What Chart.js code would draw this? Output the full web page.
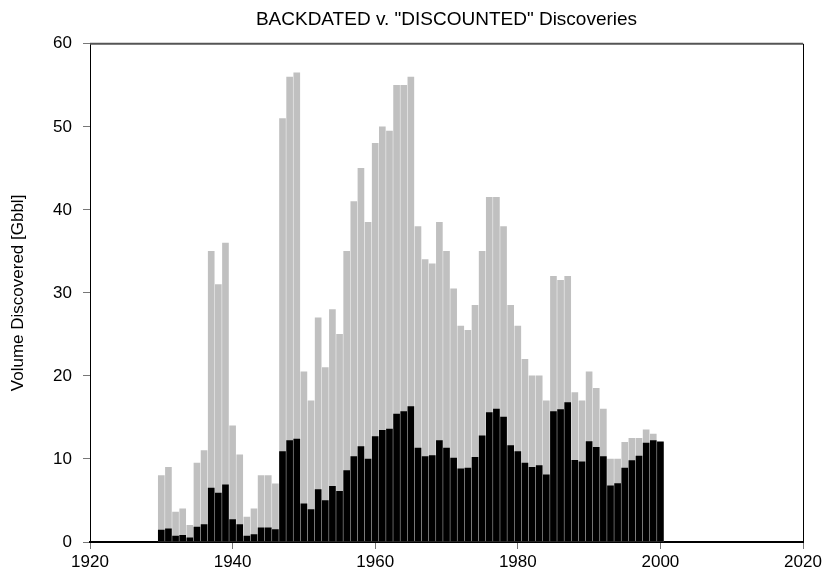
<!DOCTYPE html>
<html>
<head>
<meta charset="utf-8">
<script src="https://cdn.jsdelivr.net/npm/chart.js@4.4.1/dist/chart.umd.min.js"></script>
<style>
  html, body { margin: 0; padding: 0; background: #fff; }
  #wrap { width: 827px; height: 582px; }
</style>
</head>
<body>
<div id="wrap"><canvas id="chart" width="827" height="582"></canvas></div>
<script>
// discovery years 1930..2000
const years = [
  1930, 1931, 1932, 1933, 1934, 1935, 1936, 1937, 1938, 1939,
  1940, 1941, 1942, 1943, 1944, 1945, 1946, 1947, 1948, 1949,
  1950, 1951, 1952, 1953, 1954, 1955, 1956, 1957, 1958, 1959,
  1960, 1961, 1962, 1963, 1964, 1965, 1966, 1967, 1968, 1969,
  1970, 1971, 1972, 1973, 1974, 1975, 1976, 1977, 1978, 1979,
  1980, 1981, 1982, 1983, 1984, 1985, 1986, 1987, 1988, 1989,
  1990, 1991, 1992, 1993, 1994, 1995, 1996, 1997, 1998, 1999,
  2000
]

// backdated volumes (grey), Gbbl
const backdated = [
  8, 9, 3.6, 4, 2, 9.5, 11, 35, 31, 36,
  14, 10.5, 3, 4, 8, 8, 7, 51, 56, 56.5,
  20.5, 17, 27, 21, 28, 25, 35, 41, 45, 38.5,
  48, 50, 49.5, 55, 55, 56, 38, 34, 33.5, 38.5,
  35, 30.5, 26, 25.5, 28.5, 35, 41.5, 41.5, 38, 28.5,
  26, 22, 20, 20, 17, 32, 31.5, 32, 18, 17,
  20.5, 18.5, 16, 10, 10, 12, 12.5, 12.5, 13.5, 13,
  12
]

// "discounted" volumes (black), Gbbl
const discounted = [
  1.45, 1.6, 0.7, 0.8, 0.5, 1.8, 2.1, 6.5, 5.9, 6.9,
  2.7, 2.1, 0.7, 0.9, 1.7, 1.7, 1.5, 10.9, 12.2, 12.4,
  4.6, 3.9, 6.3, 5, 6.7, 6.1, 8.6, 10.3, 11.5, 10,
  12.7, 13.45, 13.6, 15.4, 15.7, 16.3, 11.3, 10.3, 10.4, 12.2,
  11.3, 10.1, 8.8, 8.9, 10.2, 12.8, 15.6, 16, 15.05, 11.6,
  10.9, 9.5, 9, 9.2, 8.1, 15.7, 15.95, 16.8, 9.85, 9.65,
  12.1, 11.4, 10.3, 6.75, 7.05, 8.9, 9.8, 10.35, 11.9, 12.2,
  12.05
]

const FONT = "'Liberation Sans', Arial, sans-serif"

// top and right edges of the plot box
const frame = {
  id: "frame",
  afterDraw(chart) {
    const { ctx, chartArea: a } = chart
    ctx.save()
    ctx.strokeStyle = "#555"
    ctx.lineWidth = 2
    ctx.beginPath()
    ctx.moveTo(a.left, a.top)
    ctx.lineTo(a.right, a.top)
    ctx.stroke()
    ctx.strokeStyle = "#000"
    ctx.lineWidth = 1
    ctx.beginPath()
    ctx.moveTo(a.right + 0.5, a.top)
    ctx.lineTo(a.right + 0.5, a.bottom)
    ctx.stroke()
    ctx.restore()
  }
}

new Chart(document.getElementById("chart"), {
  type: "bar",
  data: {
    datasets: [
      {
        label: "Discounted",
        data: years.map((y, i) => ({ x: y, y: discounted[i] })),
        backgroundColor: "#000",
        borderWidth: 0,
        grouped: false,
        barThickness: 6,
        order: 1
      },
      {
        label: "Backdated",
        data: years.map((y, i) => ({ x: y, y: backdated[i] })),
        backgroundColor: "#c0c0c0",
        borderWidth: 0,
        grouped: false,
        barThickness: 6,
        order: 2
      }
    ]
  },
  options: {
    responsive: false,
    animation: false,
    layout: { padding: { left: 0, right: 24, top: 0, bottom: 0 } },
    plugins: {
      legend: { display: false },
      tooltip: { enabled: false },
      title: {
        display: true,
        fullSize: false,
        text: 'BACKDATED v. "DISCOUNTED" Discoveries',
        color: "#000",
        font: { family: FONT, size: 19, weight: "normal" },
        padding: { top: 8, bottom: 13 }
      }
    },
    scales: {
      x: {
        type: "linear",
        offset: false,
        min: 1920,
        max: 2020,
        afterFit(scale) { scale.height = 40 },
        ticks: {
          stepSize: 20,
          color: "#000",
          padding: 3,
          maxRotation: 0,
          font: { family: FONT, size: 17 },
          callback: v => String(v)
        },
        grid: { offset: false, drawOnChartArea: false, drawTicks: true, tickLength: 7, color: "#777" },
        border: { display: true, color: "#000", width: 2 }
      },
      y: {
        min: 0,
        max: 60,
        afterFit(scale) { scale.width = 90 },
        ticks: {
          stepSize: 10,
          color: "#000",
          padding: 11,
          font: { family: FONT, size: 17 }
        },
        grid: { drawOnChartArea: false, drawTicks: true, tickLength: 7, color: "#777" },
        border: { display: true, color: "#000", width: 1 },
        title: {
          display: true,
          text: "Volume Discovered [Gbbl]",
          color: "#000",
          font: { family: FONT, size: 17 },
          padding: { top: 8, bottom: 0 }
        }
      }
    }
  },
  plugins: [frame]
})
</script>
</body>
</html>
